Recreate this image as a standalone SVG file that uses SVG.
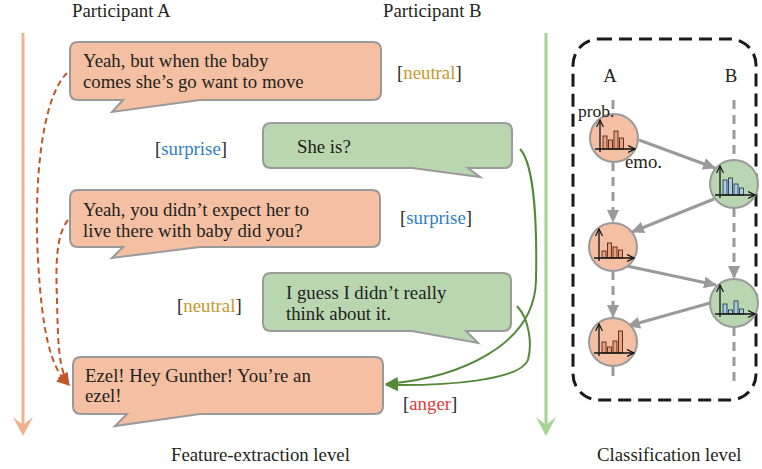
<svg xmlns="http://www.w3.org/2000/svg" width="762" height="469" viewBox="0 0 762 469">
<style>
text{font-family:"Liberation Serif","Times New Roman",serif;font-size:18.8px;fill:#231f20}
.bo{fill:#f4bfa3;stroke:#9a9a9a;stroke-width:2}
.bg{fill:#b8d7b0;stroke:#9a9a9a;stroke-width:2}
.nA{fill:#f4bfa3;stroke:#9a9a9a;stroke-width:2}
.nB{fill:#b8d7b0;stroke:#9a9a9a;stroke-width:2}
.ax{stroke:#111;stroke-width:1.3;fill:none}
.barA{fill:#ee9f7c;stroke:#3a1a10;stroke-width:0.8}
.barB{fill:#a9cde8;stroke:#1a2a3a;stroke-width:0.8}
.gl{stroke:#9a9a9a;stroke-width:3;fill:none}
.gd{stroke:#9a9a9a;stroke-width:3;fill:none;stroke-dasharray:9 6}
.neu{fill:#c39a2e}.sur{fill:#2f7dc2}.ang{fill:#e23b3b}
</style>
<defs>
<marker id="ga" markerUnits="userSpaceOnUse" markerWidth="14" markerHeight="12" refX="12" refY="6" orient="auto"><path d="M0,0 L13,6 L0,12 Z" fill="#9a9a9a"/></marker>
<marker id="ax" markerUnits="userSpaceOnUse" markerWidth="8" markerHeight="8" refX="7" refY="4" orient="auto"><path d="M0,0.5 L7,4 L0,7.5" fill="none" stroke="#111" stroke-width="1.2"/></marker>
<marker id="br" markerUnits="userSpaceOnUse" markerWidth="14" markerHeight="12" refX="12" refY="6" orient="auto"><path d="M0,0 L13,6 L0,12 Z" fill="#c0572a"/></marker>
<marker id="gr" markerUnits="userSpaceOnUse" markerWidth="14" markerHeight="12" refX="12" refY="6" orient="auto"><path d="M0,0 L13,6 L0,12 Z" fill="#55893a"/></marker>
</defs>

<!-- timeline arrows -->
<g id="timelines">
<line x1="23" y1="33" x2="23" y2="430" stroke="#f2b18e" stroke-width="3"/>
<path d="M13,417 L23,436 L33,417 L23,425 Z" fill="#f2b18e"/>
<line x1="546" y1="33" x2="546" y2="430" stroke="#a6d392" stroke-width="3"/>
<path d="M536,417 L546,436 L556,417 L546,425 Z" fill="#a6d392"/>
</g>

<!-- headers -->
<text x="72" y="17">Participant A</text>
<text x="383" y="17">Participant B</text>
<text x="171" y="461">Feature-extraction level</text>
<text x="597" y="461">Classification level</text>

<!-- utterance bubbles -->
<g id="uA1">
<path class="bo" d="M78,42 H373 Q381,42 381,50 V92 Q381,100 373,100 H200 L112,112 L123,100 H78 Q70,100 70,92 V50 Q70,42 78,42 Z"/>
<text x="83" y="67">Yeah, but when the baby</text>
<text x="83" y="88">comes she’s go want to move</text>
</g>
<g id="uB1">
<path class="bg" d="M271,123 H504 Q512,123 512,131 V160 Q512,168 504,168 H468 L480,177 L412,168 H271 Q263,168 263,160 V131 Q263,123 271,123 Z"/>
<text x="297" y="153">She is?</text>
</g>
<g id="uA2">
<path class="bo" d="M78,190 H372 Q380,190 380,198 V239 Q380,247 372,247 H200 L112,258 L123,247 H78 Q70,247 70,239 V198 Q70,190 78,190 Z"/>
<text x="83" y="216">Yeah, you didn’t expect her to</text>
<text x="83" y="237">live there with baby did you?</text>
</g>
<g id="uB2">
<path class="bg" d="M271,273 H503 Q511,273 511,281 V323 Q511,331 503,331 H466 L478,343 L412,331 H271 Q263,331 263,323 V281 Q263,273 271,273 Z"/>
<text x="286" y="299">I guess I didn’t really</text>
<text x="286" y="320">think about it.</text>
</g>
<g id="uA3">
<path class="bo" d="M81,357 H375 Q383,357 383,365 V406 Q383,414 375,414 H200 L115,426 L127,414 H81 Q73,414 73,406 V365 Q73,357 81,357 Z"/>
<text x="85" y="382">Ezel! Hey Gunther! You’re an</text>
<text x="85" y="402">ezel!</text>
</g>

<!-- emotion labels -->
<g id="labels">
<text x="397" y="79">[<tspan class="neu">neutral</tspan>]</text>
<text x="155" y="155">[<tspan class="sur">surprise</tspan>]</text>
<text x="400" y="224">[<tspan class="sur">surprise</tspan>]</text>
<text x="177" y="312">[<tspan class="neu">neutral</tspan>]</text>
<text x="403" y="410">[<tspan class="ang">anger</tspan>]</text>
</g>

<!-- feature-level connectors -->
<g id="connectors-left">
<path d="M67,73 C40,100 34,190 38,260 C42,330 50,368 69,385" fill="none" stroke="#c0572a" stroke-width="2" stroke-dasharray="6 4" marker-end="url(#br)"/>
<path d="M68,220 C55,236 56,270 57,300 C58,340 58,368 69,385" fill="none" stroke="#c0572a" stroke-width="2" stroke-dasharray="6 4" marker-end="url(#br)"/>
<path d="M520,149 C535,165 537,230 536,280 C535,345 460,378 386,384" fill="none" stroke="#55893a" stroke-width="2" marker-end="url(#gr)"/>
<path d="M517,306 C530,320 532,345 528,360 C520,380 450,386 386,385" fill="none" stroke="#55893a" stroke-width="2" marker-end="url(#gr)"/>
</g>

<!-- classification panel -->
<rect x="573" y="39" width="183" height="361" rx="26" fill="none" stroke="#1a1a1a" stroke-width="3" stroke-dasharray="13 7"/>
<text x="610" y="82" text-anchor="middle">A</text>
<text x="731" y="82" text-anchor="middle">B</text>

<g id="connectors-right">
<line class="gd" x1="613" y1="100" x2="613" y2="114"/>
<line class="gd" x1="613" y1="162" x2="613" y2="222" marker-end="url(#ga)"/>
<line class="gd" x1="613" y1="271" x2="613" y2="317" marker-end="url(#ga)"/>
<line class="gd" x1="613" y1="367" x2="613" y2="381"/>
<line class="gd" x1="734" y1="100" x2="734" y2="159"/>
<line class="gd" x1="734" y1="208" x2="734" y2="278" marker-end="url(#ga)"/>
<line class="gd" x1="734" y1="327" x2="734" y2="381"/>
<line class="gl" x1="639" y1="140" x2="715" y2="168" marker-end="url(#ga)"/>
<line class="gl" x1="714" y1="199" x2="632" y2="232" marker-end="url(#ga)"/>
<line class="gl" x1="627" y1="266" x2="716" y2="285" marker-end="url(#ga)"/>
<line class="gl" x1="710" y1="303" x2="628" y2="326" marker-end="url(#ga)"/>
</g>

<g id="nA1" transform="translate(614,138)">
<circle class="nA" r="24"/>
<rect class="barA" x="-11" y="-2" width="4" height="13"/>
<rect class="barA" x="-5.5" y="2" width="4" height="9"/>
<rect class="barA" x="0" y="-7" width="4" height="18"/>
<rect class="barA" x="5.5" y="0" width="4" height="11"/>
<line class="ax" x1="-14" y1="14" x2="-14" y2="-18" marker-end="url(#ax)"/>
<line class="ax" x1="-19" y1="11" x2="21" y2="11" marker-end="url(#ax)"/>
</g>
<g id="nB1" transform="translate(734,184)">
<circle class="nB" r="24"/>
<rect class="barB" x="-11" y="-4" width="4" height="15"/>
<rect class="barB" x="-5.5" y="-6" width="4" height="17"/>
<rect class="barB" x="0" y="0" width="4" height="11"/>
<rect class="barB" x="5.5" y="4" width="4" height="7"/>
<line class="ax" x1="-14" y1="14" x2="-14" y2="-18" marker-end="url(#ax)"/>
<line class="ax" x1="-19" y1="11" x2="21" y2="11" marker-end="url(#ax)"/>
</g>
<g id="nA2" transform="translate(613,247)">
<circle class="nA" r="24"/>
<rect class="barA" x="-11" y="4" width="4" height="7"/>
<rect class="barA" x="-5.5" y="-4" width="4" height="15"/>
<rect class="barA" x="0" y="0" width="4" height="11"/>
<rect class="barA" x="5.5" y="3" width="4" height="8"/>
<line class="ax" x1="-14" y1="14" x2="-14" y2="-18" marker-end="url(#ax)"/>
<line class="ax" x1="-19" y1="11" x2="21" y2="11" marker-end="url(#ax)"/>
</g>
<g id="nB2" transform="translate(734,303)">
<circle class="nB" r="24"/>
<rect class="barB" x="-11" y="1" width="4" height="10"/>
<rect class="barB" x="-5.5" y="7" width="4" height="4"/>
<rect class="barB" x="0" y="-2" width="4" height="13"/>
<rect class="barB" x="5.5" y="6" width="4" height="5"/>
<line class="ax" x1="-14" y1="14" x2="-14" y2="-18" marker-end="url(#ax)"/>
<line class="ax" x1="-19" y1="11" x2="21" y2="11" marker-end="url(#ax)"/>
</g>
<g id="nA3" transform="translate(613,342)">
<circle class="nA" r="24"/>
<rect class="barA" x="-11" y="0" width="4" height="11"/>
<rect class="barA" x="-5.5" y="5" width="4" height="6"/>
<rect class="barA" x="0" y="-1" width="4" height="12"/>
<rect class="barA" x="5.5" y="-11" width="4" height="22"/>
<line class="ax" x1="-14" y1="14" x2="-14" y2="-18" marker-end="url(#ax)"/>
<line class="ax" x1="-19" y1="11" x2="21" y2="11" marker-end="url(#ax)"/>
</g>

<text x="578" y="117" style="font-size:17.5px">prob.</text>
<text x="625" y="168">emo.</text>
</svg>
